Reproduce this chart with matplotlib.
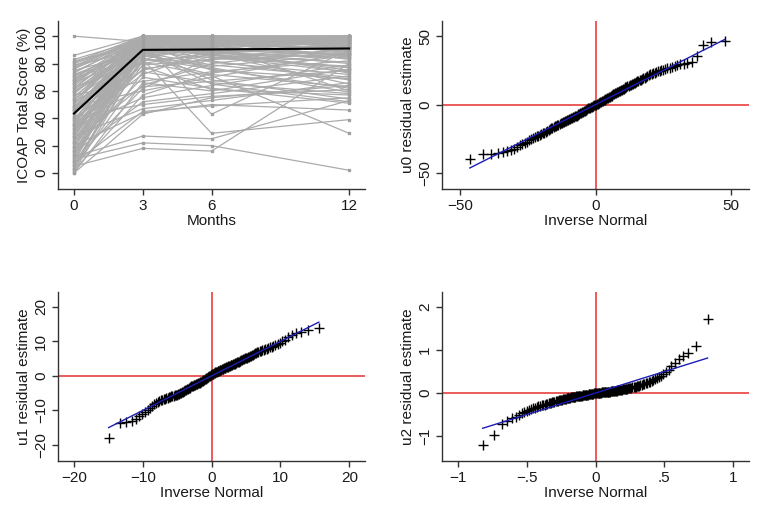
import numpy as np
import matplotlib.pyplot as plt
from matplotlib.ticker import FuncFormatter
from statistics import NormalDist

plt.rcParams['font.family'] = ['Liberation Sans', 'DejaVu Sans']

nan = np.nan
months = [0, 3, 6, 12]
mean_score = [43.5, 90, 90.3, 91]

# ICOAP total score per patient: baseline, 3, 6, 12 months
scores = [
    [100, 96, 98, 100], [86, 100, 97, 93], [83, 98, 100, 100], [82, 93, 88, 84],
    [81, 100, 95, 97], [80, 96, 100, 91], [79, 90, 84, 78], [78, 100, 98, 100],
    [77, 94, 91, 87], [76, 99, 100, 96], [75, 88, 79, 70], [74, 97, 94, 99],
    [73, 100, 100, 94], [72, 91, 86, 81], [71, 95, 97, 100], [70, 84, 72, 63],
    [69, 100, 99, 98], [68, 92, 95, 89], [67, 98, 89, 75], [66, 87, 93, 95],
    [65, 100, 100, 100], [64, 95, 82, 68], [63, 80, 88, 92], [62, 99, 96, 85],
    [61, 93, 100, 97], [60, 86, 77, 59], [59, 100, 94, 91], [58, 97, 98, 100],
    [57, 67, 74, 82], [56, 94, 90, 86], [55, 100, 100, 95], [54, 89, 65, 52],
    [53, 96, 92, 99], [52, 82, 86, 77], [51, 100, 97, 100], [50, 91, 81, 72],
    [49, 60, 70, 88], [48, 98, 100, 93], [47, 85, 92, 97], [46, 95, 43, 90],
    [45, 100, 96, 83], [44, 78, 61, 57], [43, 92, 99, 100], [42, 97, 87, 65],
    [41, 50, 56, 61], [40, 88, 94, 96], [39, 100, 100, 98], [38, 83, 29, 39],
    [37, 94, 85, 74], [36, 72, 90, 92], [35, 99, 95, 100], [34, 90, 68, 54],
    [33, 55, 64, 79], [32, 96, 100, 94], [31, 86, 78, 87], [30, 100, 93, 60],
    [29, 76, 83, 95], [28, 93, 97, 89], [27, 47, 53, 66], [26, 98, 88, 100],
    [25, 81, 71, 29], [24, 95, 100, 97], [23, 64, 80, 91], [22, 90, 96, 85],
    [21, 100, 91, 73], [20, 44, 50, 46], [19, 87, 94, 99], [18, 97, 99, 93],
    [17, 70, 62, 51], [16, 93, 86, 88], [15, 52, 58, 71], [14, 99, 100, 100],
    [13, 84, 76, 62], [12, 27, 25, 53], [11, 91, 95, 96], [10, 22, 20, 2],
    [9, 62, 84, 90], [8, 96, 89, 80], [7, 45, 49, 55], [6, 88, 97, 94],
    [5, 18, 16, 80], [4, 74, 66, 58], [3, 95, 92, 99], [2, 57, 73, 86],
    [1, 85, 100, 98], [0, 43, 55, 64], [0, 66, 60, 76], [81, 97, nan, 95],
    [77, 100, 100, nan], [71, 89, 93, 99], [66, 99, 95, 90], [59, 92, 87, 77],
    [53, 100, 98, 92], [48, 94, 90, 100], [44, 98, 100, 96], [40, 75, 87, 93],
    [36, 100, 97, 88], [32, 89, 93, 100], [29, 95, 75, 69], [26, 100, 100, 94],
    [23, 86, 91, 97], [19, 99, 96, 91], [16, 79, 83, 87], [13, 94, 100, 100],
    [9, 100, 88, 84], [6, 83, 94, 97], [3, 91, 98, 93], [35, 63, nan, 75],
    [62, 100, 85, nan], [47, 91, 96, 100], [68, 96, 100, 97],
]

# level-2 residuals (sorted)
u0_resid = [
    -40.0, -36.3, -35.8, -35.3, -34.8, -34.1, -33.2, -32.2, -31.0, -29.9,
    -28.9, -27.9, -27.0, -26.2, -25.4, -24.6, -23.8, -23.2, -22.6, -22.0,
    -21.5, -21.1, -20.6, -20.0, -19.3, -18.6, -18.0, -17.4, -16.9, -16.4,
    -16.0, -15.6, -15.2, -14.8, -14.3, -13.8, -13.3, -12.9, -12.5, -12.2,
    -11.9, -11.5, -11.1, -10.7, -10.3, -9.9, -9.5, -9.2, -8.9, -8.6,
    -8.3, -8.0, -7.6, -7.2, -6.8, -6.4, -6.0, -5.6, -5.2, -4.8,
    -4.4, -4.0, -3.6, -3.2, -2.8, -2.5, -2.2, -1.9, -1.6, -1.3,
    -1.0, -0.6, -0.3, 0.0, 0.3, 0.7, 1.0, 1.3, 1.7, 2.0,
    2.4, 2.7, 3.0, 3.4, 3.8, 4.2, 4.6, 5.0, 5.4, 5.8,
    6.2, 6.6, 7.0, 7.4, 7.8, 8.2, 8.6, 9.0, 9.4, 9.8,
    10.1, 10.5, 10.9, 11.3, 11.7, 12.1, 12.5, 12.9, 13.3, 13.7,
    14.1, 14.5, 14.9, 15.3, 15.7, 16.1, 16.5, 17.0, 17.4, 17.9,
    18.3, 18.8, 19.2, 19.7, 20.2, 20.8, 21.4, 22.0, 22.6, 23.0,
    23.4, 23.8, 24.2, 24.6, 25.1, 25.6, 26.1, 26.6, 27.1, 27.6,
    28.0, 28.6, 29.3, 29.9, 30.4, 31.0, 35.3, 43.8, 45.7, 46.2,
]
u1_resid = [
    -18.1, -13.7, -13.3, -12.9, -12.4, -11.6, -11.0, -10.4, -9.8, -9.2,
    -8.6, -8.1, -7.7, -7.4, -7.2, -7.0, -6.85, -6.7, -6.55, -6.4,
    -6.3, -6.15, -6.0, -5.9, -5.8, -5.7, -5.6, -5.5, -5.4, -5.3,
    -5.15, -5.0, -4.85, -4.7, -4.55, -4.4, -4.25, -4.1, -3.95, -3.8,
    -3.65, -3.5, -3.35, -3.2, -3.05, -2.9, -2.8, -2.7, -2.6, -2.5,
    -2.4, -2.3, -2.2, -2.1, -2.0, -1.9, -1.8, -1.7, -1.55, -1.4,
    -1.25, -1.1, -0.95, -0.8, -0.65, -0.5, -0.35, -0.2, -0.05, 0.1,
    0.25, 0.4, 0.5, 0.6, 0.7, 0.8, 0.9, 1.0, 1.1, 1.2,
    1.3, 1.4, 1.5, 1.6, 1.7, 1.8, 1.9, 2.0, 2.1, 2.2,
    2.3, 2.4, 2.5, 2.6, 2.7, 2.8, 2.9, 3.0, 3.1, 3.2,
    3.3, 3.4, 3.5, 3.6, 3.7, 3.8, 3.9, 4.0, 4.1, 4.3,
    4.4, 4.6, 4.7, 4.8, 5.0, 5.1, 5.2, 5.3, 5.5, 5.6,
    5.8, 5.9, 6.1, 6.2, 6.4, 6.5, 6.6, 6.8, 6.9, 7.1,
    7.2, 7.4, 7.5, 7.7, 7.9, 8.1, 8.3, 8.5, 8.7, 9.0,
    9.3, 9.6, 10.0, 10.5, 11.2, 11.9, 12.3, 12.7, 13.4, 13.8,
]
u2_resid = [
    -1.22, -0.98, -0.72, -0.64, -0.59, -0.55, -0.51, -0.47, -0.44, -0.41,
    -0.39, -0.37, -0.355, -0.34, -0.325, -0.31, -0.30, -0.29, -0.28, -0.27,
    -0.26, -0.25, -0.24, -0.232, -0.224, -0.216, -0.208, -0.20, -0.193, -0.186,
    -0.179, -0.172, -0.166, -0.16, -0.154, -0.148, -0.142, -0.137, -0.132, -0.127,
    -0.122, -0.117, -0.112, -0.108, -0.104, -0.100, -0.096, -0.092, -0.088, -0.084,
    -0.080, -0.077, -0.074, -0.071, -0.068, -0.065, -0.062, -0.059, -0.056, -0.053,
    -0.050, -0.047, -0.044, -0.041, -0.038, -0.035, -0.032, -0.029, -0.026, -0.023,
    -0.020, -0.017, -0.014, -0.011, -0.008, -0.005, -0.002, 0.000, 0.002, 0.004,
    0.006, 0.008, 0.010, 0.012, 0.014, 0.016, 0.018, 0.020, 0.022, 0.024,
    0.026, 0.028, 0.030, 0.032, 0.034, 0.036, 0.039, 0.042, 0.045, 0.048,
    0.051, 0.054, 0.057, 0.060, 0.063, 0.066, 0.070, 0.074, 0.078, 0.082,
    0.086, 0.090, 0.095, 0.100, 0.105, 0.110, 0.115, 0.120, 0.126, 0.132,
    0.138, 0.144, 0.150, 0.157, 0.164, 0.172, 0.180, 0.190, 0.200, 0.210,
    0.222, 0.235, 0.250, 0.265, 0.280, 0.300, 0.320, 0.345, 0.370, 0.400,
    0.440, 0.490, 0.540, 0.620, 0.700, 0.800, 0.860, 0.920, 1.100, 1.720,
]

TXT = '#1a1a1a'
FS = 11


def stata_fmt(v, pos):
    s = f"{v:g}"
    s = s.replace("0.", ".")
    return s.replace("-", "\u2212")


def style_axes(ax):
    for side in ['top', 'right']:
        ax.spines[side].set_visible(False)
    for side in ['left', 'bottom']:
        ax.spines[side].set_color('#333333')
        ax.spines[side].set_linewidth(1.0)
    ax.tick_params(direction='out', length=4, width=1.0, color='#333333',
                   labelsize=FS, labelcolor=TXT, pad=3)
    ax.tick_params(axis='y', labelrotation=90)
    for lab in ax.get_yticklabels():
        lab.set_va('center')
    ax.xaxis.set_major_formatter(FuncFormatter(stata_fmt))
    ax.yaxis.set_major_formatter(FuncFormatter(stata_fmt))


def qnorm_panel(ax, resid, xlim, ylim, xticks, yticks, ylabel):
    y = np.sort(np.array(resid))
    n = len(y)
    m, sd = y.mean(), y.std(ddof=1)
    nd = NormalDist()
    x = np.array([m + sd * nd.inv_cdf(i / (n + 1)) for i in range(1, n + 1)])
    ax.axhline(0, color='#e8403f', lw=1.2, zorder=1)
    ax.axvline(0, color='#e8403f', lw=1.2, zorder=1)
    ax.plot(x, y, ls='none', marker='+', ms=7, mew=1.0, color='black', zorder=2)
    ax.plot([x.min(), x.max()], [x.min(), x.max()], color='#1c1cb8', lw=1.0, zorder=3)
    ax.set_xlim(*xlim)
    ax.set_ylim(*ylim)
    ax.set_xticks(xticks)
    ax.set_yticks(yticks)
    ax.set_xlabel('Inverse Normal', fontsize=FS, color=TXT, labelpad=1)
    ax.set_ylabel(ylabel, fontsize=FS, color=TXT, labelpad=2)
    style_axes(ax)


fig = plt.figure(figsize=(7.66, 5.15), dpi=100)
ax1 = fig.add_axes([0.0757, 0.633, 0.401, 0.326])
ax2 = fig.add_axes([0.577, 0.633, 0.401, 0.326])
ax3 = fig.add_axes([0.0757, 0.105, 0.401, 0.328])
ax4 = fig.add_axes([0.577, 0.105, 0.401, 0.328])

# spaghetti plot
for row in scores:
    r = np.array(row, dtype=float)
    ok = ~np.isnan(r)
    ax1.plot(np.array(months)[ok], r[ok], color='#ababab', lw=0.9,
             marker='s', ms=1.7, mec='#a0a0a0', mfc='#a0a0a0', zorder=1)
ax1.plot(months, mean_score, color='black', lw=1.5, zorder=3)
ax1.set_xlim(-0.7, 12.7)
ax1.set_ylim(-11.7, 111)
ax1.set_xticks(months)
ax1.set_yticks([0, 20, 40, 60, 80, 100])
ax1.set_xlabel('Months', fontsize=FS, color=TXT, labelpad=1)
ax1.set_ylabel('ICOAP Total Score (%)', fontsize=FS, color=TXT, labelpad=2)
style_axes(ax1)

qnorm_panel(ax2, u0_resid, (-56.6, 56.6), (-61.7, 61), [-50, 0, 50], [-50, 0, 50],
            'u0 residual estimate')
qnorm_panel(ax3, u1_resid, (-22.3, 22.3), (-24.6, 24.3), [-20, -10, 0, 10, 20],
            [-20, -10, 0, 10, 20], 'u1 residual estimate')
qnorm_panel(ax4, u2_resid, (-1.116, 1.116), (-1.58, 2.35), [-1, -0.5, 0, 0.5, 1],
            [-1, 0, 1, 2], 'u2 residual estimate')

fig.savefig('out.png', dpi=100)
